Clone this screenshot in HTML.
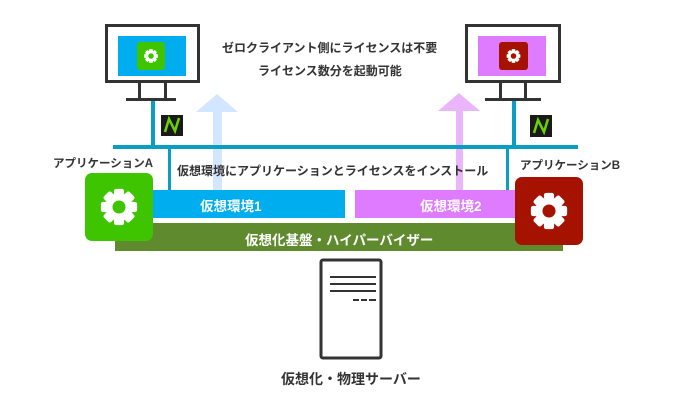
<!DOCTYPE html>
<html><head><meta charset="utf-8"><style>
body{margin:0;width:678px;height:418px;background:#fff;overflow:hidden;position:relative;font-family:"Liberation Sans","Noto Sans CJK JP",sans-serif;font-weight:bold;color:#333}
.a{position:absolute}
.t{position:absolute;white-space:nowrap}
</style></head><body>
<svg class="a" style="left:0;top:0" width="678" height="418">
<defs>
<g id="gear">
<g fill="#fff">
<rect x="-3.5" y="-12.5" width="7" height="25" rx="1.5"/>
<rect x="-3.5" y="-12.5" width="7" height="25" rx="1.5" transform="rotate(45)"/>
<rect x="-3.5" y="-12.5" width="7" height="25" rx="1.5" transform="rotate(90)"/>
<rect x="-3.5" y="-12.5" width="7" height="25" rx="1.5" transform="rotate(135)"/>
<circle r="9.5"/>
</g>
</g>
</defs>
<polygon points="217,94 238,112 222,112 222,190 213,190 213,112 196,112" fill="#d3e6ff"/>
<polygon points="459,93 480,111 463,111 463,190 456,190 456,111 438,111" fill="#ebb5fb"/>
<rect x="113" y="145" width="465" height="4" fill="#0b9ec4"/>
<rect x="151" y="101" width="4" height="46" fill="#0b9ec4"/>
<rect x="168" y="147" width="3" height="43" fill="#0b9ec4"/>
<rect x="512" y="101" width="4" height="46" fill="#0b9ec4"/>
<rect x="506" y="147" width="3" height="43" fill="#0b9ec4"/>
<rect x="106.5" y="25.5" width="92" height="56" fill="#fff" stroke="#333" stroke-width="3"/>
<rect x="118" y="36" width="68" height="40" fill="#00aeef"/>
<rect x="137" y="42" width="28" height="28" rx="3" fill="#3fc400"/>
<g transform="translate(151,56) scale(0.55)"><use href="#gear"/><circle r="5" fill="#3fc400"/></g>
<rect x="138" y="82" width="3" height="16" fill="#333"/><rect x="164" y="82" width="3" height="16" fill="#333"/>
<rect x="126" y="98" width="50" height="3" fill="#333"/>
<rect x="466.5" y="25.5" width="93" height="56" fill="#fff" stroke="#333" stroke-width="3"/>
<rect x="478" y="36" width="68" height="40" fill="#df7bff"/>
<rect x="499" y="42" width="29" height="28" rx="3" fill="#a51200"/>
<g transform="translate(513.5,56) scale(0.55)"><use href="#gear"/><circle r="5" fill="#a51200"/></g>
<rect x="499" y="82" width="3" height="16" fill="#333"/><rect x="524" y="82" width="3" height="16" fill="#333"/>
<rect x="485" y="98" width="56" height="3" fill="#333"/>
<rect x="161" y="115" width="22" height="21" fill="#1a1a1a"/>
<path d="M165,132 L169,119 L175,131 L179,118" stroke="#6ad400" stroke-width="2.5" fill="none"/>
<rect x="530" y="115" width="22" height="22" fill="#1a1a1a"/>
<path d="M534,133 L538,120 L544,132 L548,119" stroke="#6ad400" stroke-width="2.5" fill="none"/>
<rect x="115" y="223" width="448" height="28" fill="#5f8a2e"/>
<rect x="150" y="190" width="195" height="28" fill="#00aeef"/>
<rect x="355" y="190" width="165" height="28" fill="#df7bff"/>
<rect x="85" y="173" width="68" height="68" rx="7" fill="#3fc400"/>
<g transform="translate(119,207) scale(1.45)"><use href="#gear"/><circle r="4.5" fill="#3fc400"/></g>
<rect x="515" y="177" width="68" height="68" rx="7" fill="#a51200"/>
<g transform="translate(549,211) scale(1.45)"><use href="#gear"/><circle r="4.5" fill="#a51200"/></g>
<rect x="321" y="260" width="60" height="98" rx="2" fill="#fff" stroke="#333" stroke-width="3"/>
<rect x="330" y="276" width="46" height="2" fill="#333"/>
<rect x="330" y="283" width="46" height="2" fill="#333"/>
<rect x="330" y="290" width="46" height="2" fill="#333"/>
<rect x="353" y="299" width="6" height="2" fill="#333"/><rect x="361" y="299" width="6" height="2" fill="#333"/><rect x="369" y="299" width="7" height="2" fill="#333"/>
</svg>
<div class="t" style="left:222px;top:39px;font-size:12px">ゼロクライアント側にライセンスは不要</div>
<div class="t" style="left:258px;top:62px;font-size:12px">ライセンス数分を起動可能</div>
<div class="t" style="left:53px;top:155px;font-size:11.5px">アプリケーションA</div>
<div class="t" style="left:520px;top:157px;font-size:11.5px">アプリケーションB</div>
<div class="t" style="left:177px;top:162px;font-size:12px">仮想環境にアプリケーションとライセンスをインストール</div>
<div class="t" style="left:200px;top:195px;font-size:13.5px;color:#fff">仮想環境1</div>
<div class="t" style="left:420px;top:195px;font-size:13.5px;color:#fff">仮想環境2</div>
<div class="t" style="left:245px;top:229px;font-size:13.5px;color:#fff">仮想化基盤・ハイパーバイザー</div>
<div class="t" style="left:281px;top:369px;font-size:14px">仮想化・物理サーバー</div>
</body></html>
